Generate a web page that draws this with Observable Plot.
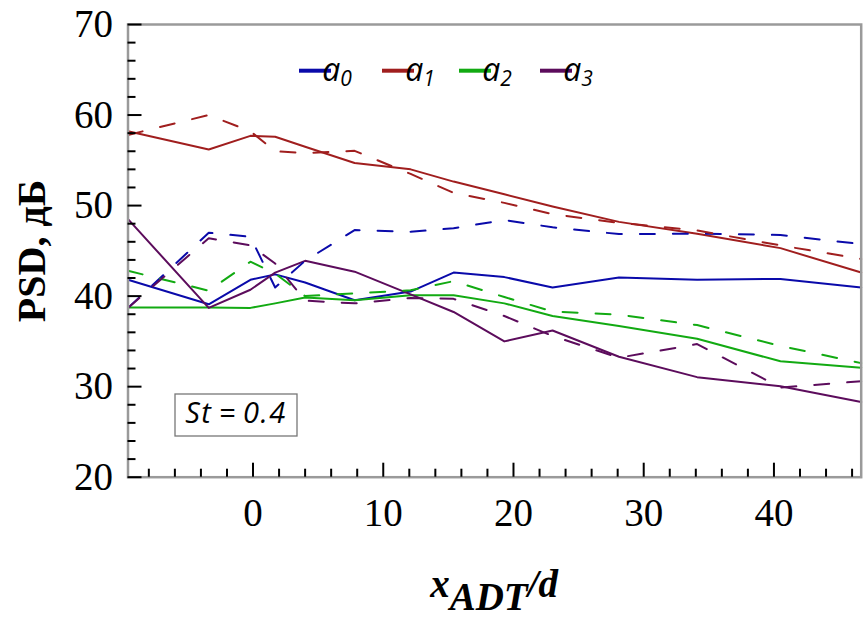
<!DOCTYPE html>
<html>
<head>
<meta charset="utf-8">
<script src="https://cdn.jsdelivr.net/npm/d3@7"></script>
<script src="https://cdn.jsdelivr.net/npm/@observablehq/plot@0.6"></script>
<style>
  body { margin: 0; background: #fff; }
  #chart { width: 863px; height: 619px; }
</style>
</head>
<body>
<div id="chart"></div>
<script>
// ---- data ----
const xValues = [-9.6, -3.4, -0.2, 1.7, 4.0, 7.8, 12.1, 15.4, 19.3, 23.0, 28.1, 34.1, 40.5, 46.7];

const a0Solid  = [41.8, 39.1, 41.8, 42.4, 41.5, 39.55, 40.5, 42.6, 42.1, 40.95, 42.05, 41.8, 41.9, 40.95];
const a0Dashed = [38.7, 47.0, 46.55, 40.95, 43.9, 47.3, 47.1, 47.5, 48.4, 47.6, 46.85, 46.9, 46.75, 45.75];

const a1Solid  = [58.2, 56.2, 57.7, 57.6, 56.5, 54.7, 54.0, 52.65, 51.25, 49.9, 48.2, 46.9, 45.3, 42.6];
const a1Dashed = [57.8, 60.0, 58.2, 56.0, 55.8, 56.05, 53.5, 51.4, 50.3, 49.05, 48.1, 47.25, 45.6, 44.1];

const a2Solid  = [38.75, 38.75, 38.7, 39.2, 39.85, 39.55, 40.1, 40.1, 39.2, 37.8, 36.7, 35.3, 32.8, 32.1];
const a2Dashed = [42.8, 40.6, 43.8, 42.5, 40.0, 40.3, 40.65, 41.65, 39.9, 38.3, 37.95, 36.8, 34.5, 32.6];

const a3Solid  = [48.5, 38.7, 40.7, 42.6, 43.9, 42.7, 40.2, 38.25, 35.0, 36.2, 33.3, 31.05, 30.05, 28.3];
const a3Dashed = [38.7, 46.4, 45.6, 43.6, 39.5, 39.2, 39.8, 39.7, 37.8, 35.6, 33.2, 34.7, 29.9, 30.6];

const seriesNames = ["a0", "a1", "a2", "a3"];
const seriesSubs = ["0", "1", "2", "3"];
const seriesColors = ["#0A0AAA", "#A01E1E", "#12AA12", "#5C0C5C"];

const yMajorTicks = [20, 30, 40, 50, 60, 70];
const yMinorTicks = [22, 24, 26, 28, 32, 34, 36, 38, 42, 44, 46, 48, 52, 54, 56, 58, 62, 64, 66, 68];
const xMajorTicks = [0, 10, 20, 30, 40];
const xMinorTicks = [-8, -6, -4, -2, 2, 4, 6, 8, 12, 14, 16, 18, 22, 24, 26, 28, 32, 34, 36, 38, 42, 44, 46];

const yLabel = "PSD, дБ";
const annotation = "St\u2009=\u20090.4";

// ---- build tidy table ----
const solids = [a0Solid, a1Solid, a2Solid, a3Solid];
const dashes = [a0Dashed, a1Dashed, a2Dashed, a3Dashed];
const rows = [];
seriesNames.forEach((name, i) => {
  xValues.forEach((x, j) => {
    rows.push({x, y: solids[i][j], series: name, kind: "solid"});
    rows.push({x, y: dashes[i][j], series: name, kind: "dashed"});
  });
});

// ---- layout ----
const W = 863, H = 619;
const mL = 127.5, mR = 2.3, mT = 24, mB = 142.3;
const plotW = W - mL - mR, plotH = H - mT - mB;
const serif = "'Liberation Serif', 'Times New Roman', serif";
const sans = "'Open Sans', 'DejaVu Sans', sans-serif";

const chart = Plot.plot({
  width: W, height: H,
  marginLeft: mL, marginRight: mR, marginTop: mT, marginBottom: mB,
  style: {background: "white", fontFamily: serif, color: "black"},
  x: {domain: [-9.6, 46.7]},
  y: {domain: [20, 70]},
  color: {domain: seriesNames, range: seriesColors},
  marks: [
    Plot.line(rows.filter(d => d.kind === "solid"), {x: "x", y: "y", z: "series", stroke: "series", strokeWidth: 2}),
    Plot.line(rows.filter(d => d.kind === "dashed"), {x: "x", y: "y", z: "series", stroke: "series", strokeWidth: 2, strokeDasharray: "15,18"}),
    Plot.frame({stroke: "#9a9a9a", strokeWidth: 2.5}),
    Plot.tickY(yMajorTicks, {y: d => d, stroke: "black", strokeWidth: 2, insetRight: plotW - 14}),
    Plot.tickY(yMinorTicks, {y: d => d, stroke: "black", strokeWidth: 2, insetRight: plotW - 8}),
    Plot.tickX(xMajorTicks, {x: d => d, stroke: "black", strokeWidth: 2, insetTop: plotH - 14}),
    Plot.tickX(xMinorTicks, {x: d => d, stroke: "black", strokeWidth: 2, insetTop: plotH - 8}),
    Plot.axisY(yMajorTicks, {tickSize: 0, tickPadding: 15, fontSize: 39, label: null, fontFamily: serif}),
    Plot.axisX(xMajorTicks, {tickSize: 0, tickPadding: 21, fontSize: 39, label: null, fontFamily: serif})
  ]
});

const svg = d3.select(chart);

// y label
svg.append("text")
  .attr("transform", `translate(31,251) rotate(-90)`)
  .attr("text-anchor", "middle")
  .attr("dominant-baseline", "central")
  .attr("font-family", serif)
  .attr("font-weight", "bold")
  .attr("font-size", 40)
  .attr("fill", "black")
  .text(yLabel);

// x label: x_ADT / d
const xl = svg.append("text")
  .attr("x", mL + plotW / 2)
  .attr("y", 597)
  .attr("text-anchor", "middle")
  .attr("font-family", serif)
  .attr("font-weight", "bold")
  .attr("font-style", "italic")
  .attr("font-size", 39)
  .attr("fill", "black");
xl.append("tspan").text("x");
xl.append("tspan").attr("dy", 13).text("ADT");
xl.append("tspan").attr("dy", -13).text("/d");

// legend
const legendX = [299, 382, 459, 540];
const lg = svg.append("g");
seriesNames.forEach((name, i) => {
  const x0 = legendX[i];
  lg.append("line")
    .attr("x1", x0).attr("x2", x0 + 32)
    .attr("y1", 70.7).attr("y2", 70.7)
    .attr("stroke", seriesColors[i]).attr("stroke-width", 4);
  const t = lg.append("text")
    .attr("x", x0 + 38).attr("y", 81)
    .attr("font-family", sans)
    .attr("font-style", "italic")
    .attr("font-size", 32)
    .attr("fill", "black");
  t.append("tspan").text("a");
  t.append("tspan").attr("dy", 5).attr("font-size", 21).text(seriesSubs[i]);
});

// annotation box
const bx = svg.append("g");
bx.append("rect")
  .attr("x", 175).attr("y", 394).attr("width", 122).attr("height", 42)
  .attr("fill", "white").attr("stroke", "#777").attr("stroke-width", 1.3);
bx.append("text")
  .attr("x", 236).attr("y", 423)
  .attr("text-anchor", "middle")
  .attr("font-family", sans)
  .attr("font-style", "italic")
  .attr("font-size", 29)
  .attr("letter-spacing", 1.5)
  .attr("fill", "black")
  .text(annotation);

document.getElementById("chart").appendChild(chart);
</script>
</body>
</html>
